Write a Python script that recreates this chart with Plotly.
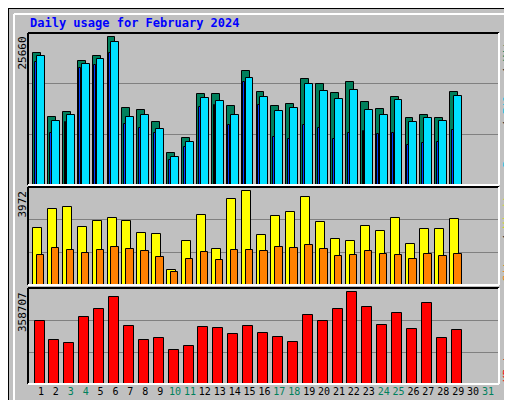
import plotly.graph_objects as go

days = list(range(1, 32))
data_days = list(range(1, 30))
weekend = [3, 4, 10, 11, 17, 18, 24, 25, 31]

hits = [22340, 11480, 12320, 21000, 21830, 24980, 12990, 12660, 10630, 5400, 7930, 15360, 15360, 13320, 19250, 15700,
        13320, 13670, 17900, 17050, 15530, 17390, 13990, 12830, 14860, 11310, 11810, 11310, 15700]
files = [21780, 10800, 11820, 20430, 21270, 24140, 11480, 11820, 9450, 4730, 7260, 14690, 14180, 11820, 18060, 14860,
         12490, 13000, 17050, 15870, 14520, 16040, 12660, 11820, 14350, 10630, 11310, 10800, 15020]
pages = [20760, 8780, 10630, 19750, 20260, 22280, 10300, 9620, 8780, 4220, 6420, 13170, 13500, 10130, 17390, 13500,
         8100, 7760, 10130, 9620, 7760, 8780, 9120, 8610, 8780, 6750, 7090, 7260, 9280]
visits = [2330, 3070, 3150, 2370, 2610, 2700, 2610, 2120, 2080, 600, 1790, 2820, 1460, 3480, 3810, 2040, 2780, 2940,
          3560, 2570, 1870, 1790, 2410, 2200, 2700, 1650, 2270, 2270, 2680]
sites = [1220, 1510, 1420, 1300, 1420, 1550, 1460, 1380, 1130, 510, 1050, 1340, 1010, 1420, 1420, 1380, 1550, 1510,
         1630, 1460, 1170, 1220, 1380, 1260, 1220, 1050, 1260, 1170, 1260]
kbytes = [235500, 164000, 152700, 250500, 281000, 326000, 218500, 164000, 171500, 127900, 143000, 214700, 210900,
          187900, 218500, 191600, 176500, 157600, 258000, 235500, 281000, 345000, 288500, 221900, 266000, 206800,
          303500, 171500, 202700]

MAXH, MAXV, MAXK = 25660, 3972, 358707
GREEN = "#00805C"
mono = "DejaVu Sans Mono"

fig = go.Figure()
edge = dict(color="black", width=1)
fig.add_bar(x=data_days, y=hits, offset=-0.53, width=0.53, marker=dict(color=GREEN, line=edge), xaxis="x", yaxis="y")
fig.add_bar(x=data_days, y=files, offset=-0.27, width=0.53, marker=dict(color="#00E0FF", line=edge), xaxis="x", yaxis="y")
fig.add_bar(x=data_days, y=pages, offset=-0.42, width=0.13, marker=dict(color="#0040FF", line=edge), xaxis="x", yaxis="y")
fig.add_bar(x=data_days, y=visits, offset=-0.53, width=0.6, marker=dict(color="#FFFF00", line=edge), xaxis="x2", yaxis="y2")
fig.add_bar(x=data_days, y=sites, offset=-0.27, width=0.5, marker=dict(color="#FF8000", line=edge), xaxis="x2", yaxis="y2")
fig.add_bar(x=data_days, y=kbytes, offset=-0.43, width=0.67, marker=dict(color="#FF0000", line=edge), xaxis="x3", yaxis="y3")

xr = [0.13, 31.74]
xd = [20 / 512, 491 / 512]
def xax(show, anchor):
    d = dict(domain=xd, range=xr, showgrid=False, zeroline=False, showline=False, ticks="", anchor=anchor,
             fixedrange=True, automargin=False, tickangle=0)
    if show:
        d.update(tickvals=days,
                 ticktext=[f'<span style="color:{GREEN}">{d_}</span>' if d_ in weekend else str(d_) for d_ in days],
                 tickfont=dict(family=mono, size=10, color="black"))
    else:
        d.update(showticklabels=False)
    return d

def yax(mx, dom, anchor):
    return dict(domain=dom, range=[0, mx], tickvals=[mx / 3, 2 * mx / 3], showticklabels=False, showgrid=True,
                gridcolor="#808080", gridwidth=1, zeroline=False, showline=False, anchor=anchor, fixedrange=True,
                automargin=False)

y1 = [1 - 177 / 400, 1 - 25 / 400]
y2 = [1 - 277 / 400, 1 - 179 / 400]
y3 = [1 - 376 / 400, 1 - 280 / 400]

fig.update_layout(
    width=512, height=400, margin=dict(l=0, r=0, t=0, b=0),
    paper_bgcolor="#C0C0C0", plot_bgcolor="#C0C0C0", barmode="overlay", bargap=0, showlegend=False,
    xaxis=xax(False, "y"), xaxis2=xax(False, "y2"), xaxis3=xax(True, "y3"),
    yaxis=yax(MAXH, y1, "x"), yaxis2=yax(MAXV, y2, "x2"), yaxis3=yax(MAXK, y3, "x3"),
)

shapes = [
    dict(type="rect", xref="paper", yref="paper", x0=0, x1=1, y0=0, y1=1, line=dict(color="black", width=2)),
    dict(type="line", xref="paper", yref="paper", x0=6/512, x1=505/512, y0=1-6/400, y1=1-6/400, line=dict(color="white", width=2)),
    dict(type="line", xref="paper", yref="paper", x0=6/512, x1=6/512, y0=6/400, y1=1-6/400, line=dict(color="white", width=2)),
    dict(type="line", xref="paper", yref="paper", x0=505/512, x1=505/512, y0=6/400, y1=1-6/400, line=dict(color="#808080", width=3)),
    dict(type="line", xref="paper", yref="paper", x0=6/512, x1=505/512, y0=6/400, y1=6/400, line=dict(color="#808080", width=3)),
]
for dom in (y1, y2, y3):
    a, b = dom
    shapes += [
        dict(type="line", xref="paper", yref="paper", x0=xd[0], x1=xd[1], y0=b, y1=b, line=dict(color="black", width=2)),
        dict(type="line", xref="paper", yref="paper", x0=xd[0], x1=xd[0], y0=a, y1=b, line=dict(color="black", width=2)),
        dict(type="line", xref="paper", yref="paper", x0=xd[0], x1=xd[1], y0=a, y1=a, line=dict(color="white", width=2)),
        dict(type="line", xref="paper", yref="paper", x0=xd[1], x1=xd[1], y0=a, y1=b, line=dict(color="white", width=2)),
    ]
fig.update_layout(shapes=shapes)

ann = [
    dict(text="<b>Daily usage for February 2024</b>", x=20/512, y=1-15/400, xanchor="left", yanchor="middle",
         font=dict(family=mono, size=12, color="#0000FF")),
]
for val, dom in ((MAXH, y1), (MAXV, y2), (MAXK, y3)):
    ann.append(dict(text=str(val), x=14/512, y=dom[1] - 2/400, xanchor="center", yanchor="top", textangle=-90,
                    font=dict(family=mono, size=11, color="black")))
ann += [
    dict(text=f'<span style="color:#00C0E0">Pages</span> / <span style="color:#00C0E0">Files</span> / <span style="color:{GREEN}">Hits</span>',
         x=499/512, y=y1[1], xanchor="center", yanchor="top", textangle=-90, font=dict(family=mono, size=11, color="black")),
    dict(text='<span style="color:#FF8000">Sites</span> / <span style="color:#E0E000">Visits</span>',
         x=499/512, y=y2[1], xanchor="center", yanchor="top", textangle=-90, font=dict(family=mono, size=11, color="black")),
    dict(text='<span style="color:#FF0000">KBytes</span>',
         x=499/512, y=y3[0], xanchor="center", yanchor="bottom", textangle=-90, font=dict(family=mono, size=11, color="black")),
]
fig.update_layout(annotations=[dict(a, xref="paper", yref="paper", showarrow=False) for a in ann])

fig.write_html("out.html", config={"displayModeBar": False})
